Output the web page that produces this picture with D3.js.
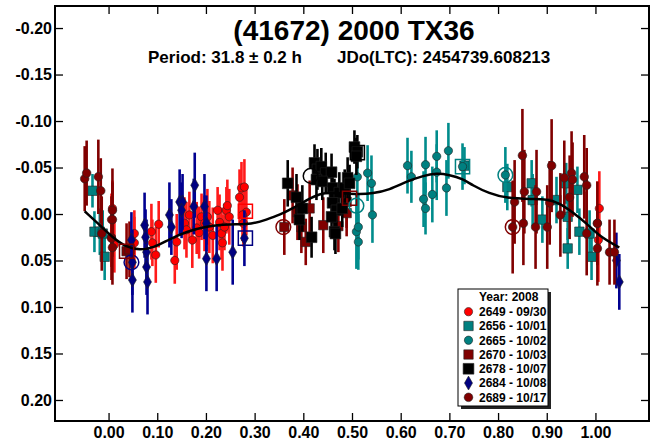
<!DOCTYPE html>
<html>
<head>
<meta charset="utf-8">
<script src="https://cdn.jsdelivr.net/npm/d3@7"></script>
<style>
  body { margin: 0; background: #fff; }
  svg { display: block; }
</style>
</head>
<body>
<svg width="657" height="444"></svg>
<script>
// lightcurve data, one array per session: [phase, mag, err]
var s2649 = [[0.008,-0.006,0.030],[0.006,0.006,0.028],[0.006,0.025,0.032],[0.012,0.033,0.030],[0.053,0.021,0.025],[0.053,0.031,0.028],[0.088,0.019,0.030],[0.090,0.031,0.025],[0.097,0.044,0.030],[0.103,0.011,0.025],[0.140,0.030,0.030],[0.136,0.050,0.025],[0.156,0.010,0.028],[0.160,0.017,0.030],[0.166,0.001,0.025],[0.172,0.028,0.030],[0.181,0.015,0.028],[0.191,0.003,0.025],[0.197,0.010,0.030],[0.186,0.020,0.028],[0.203,0.003,0.030],[0.207,0.014,0.028],[0.214,0.023,0.030],[0.224,-0.004,0.025],[0.228,0.009,0.030],[0.232,0.021,0.028],[0.234,0.031,0.030],[0.242,-0.004,0.025],[0.244,-0.009,0.028],[0.248,0.003,0.030],[0.238,0.014,0.025],[0.269,-0.018,0.030],[0.273,-0.028,0.028],[0.279,-0.029,0.030],[0.283,-0.002,0.025],[0.275,0.001,0.028],[0.277,0.010,0.025],[1.008,-0.006,0.040],[1.004,0.010,0.045],[1.006,0.028,0.045]];
var s2656 = [[-0.033,-0.025,0.018],[-0.029,0.019,0.022],[-0.018,0.019,0.025],[-0.008,0.046,0.025],[-0.012,0.021,0.025],[0.731,-0.052,0.020],[0.819,-0.029,0.025],[0.869,-0.033,0.025],[0.871,-0.015,0.028],[0.891,0.006,0.025],[0.920,-0.015,0.025],[0.940,-0.033,0.022],[0.943,0.003,0.025],[0.963,-0.026,0.025],[0.943,0.037,0.022],[0.967,0.019,0.025],[0.988,0.021,0.025],[0.992,0.046,0.025]];
var s2665 = [[0.511,-0.040,0.030],[0.509,0.019,0.040],[0.513,0.014,0.035],[0.532,-0.044,0.030],[0.540,-0.033,0.030],[0.542,0.001,0.030],[0.614,-0.052,0.030],[0.622,-0.040,0.028],[0.651,-0.053,0.030],[0.647,-0.016,0.030],[0.651,-0.006,0.028],[0.665,-0.021,0.030],[0.674,-0.062,0.028],[0.674,-0.045,0.030],[0.698,-0.068,0.030],[0.694,-0.028,0.030],[0.727,-0.051,0.025],[0.815,-0.042,0.030],[0.513,0.030,0.030]];
var s2670 = [[0.037,0.040,0.030],[0.043,0.038,0.030],[0.361,0.014,0.030],[0.378,-0.020,0.030],[0.388,-0.002,0.030],[0.396,0.014,0.028],[0.405,0.030,0.025],[0.413,-0.006,0.030],[0.441,0.012,0.030],[0.472,0.013,0.028],[0.489,-0.001,0.025],[0.489,-0.013,0.028]];
var s2678 = [[0.368,-0.033,0.025],[0.386,-0.018,0.025],[0.392,0.006,0.022],[0.398,-0.006,0.025],[0.417,0.025,0.022],[0.423,-0.055,0.020],[0.429,-0.048,0.022],[0.437,-0.051,0.020],[0.446,-0.044,0.022],[0.458,-0.045,0.020],[0.427,-0.037,0.022],[0.439,-0.035,0.020],[0.460,-0.028,0.022],[0.464,-0.018,0.020],[0.474,-0.023,0.022],[0.485,-0.028,0.020],[0.491,-0.039,0.022],[0.495,-0.033,0.020],[0.505,-0.072,0.018],[0.511,-0.067,0.018],[0.509,-0.062,0.020],[0.460,-0.012,0.022],[0.468,-0.004,0.020],[0.458,0.003,0.022],[0.464,0.019,0.020],[0.466,0.021,0.022],[0.480,-0.006,0.020]];
var s2684 = [[0.047,0.028,0.030],[0.049,0.052,0.035],[0.049,0.071,0.035],[0.074,0.012,0.035],[0.076,0.025,0.030],[0.078,0.041,0.035],[0.078,0.057,0.030],[0.080,0.073,0.035],[0.125,0.001,0.035],[0.129,0.014,0.030],[0.146,-0.013,0.035],[0.152,-0.013,0.030],[0.150,-0.004,0.030],[0.177,-0.031,0.035],[0.175,-0.008,0.030],[0.201,0.048,0.035],[0.197,-0.008,0.035],[0.201,0.010,0.030],[0.222,0.048,0.035],[0.255,0.041,0.035],[0.279,0.026,0.030],[1.043,0.050,0.030],[1.049,0.073,0.030]];
var s2689 = [[-0.049,-0.038,0.035],[-0.045,-0.044,0.035],[-0.021,-0.040,0.040],[-0.016,-0.025,0.035],[-0.014,0.021,0.040],[0.008,-0.004,0.045],[0.008,0.006,0.040],[0.006,0.026,0.045],[0.008,0.036,0.040],[0.850,-0.063,0.050],[0.854,-0.024,0.045],[0.834,-0.013,0.045],[0.830,0.014,0.050],[0.852,0.010,0.045],[0.879,-0.024,0.045],[0.877,0.014,0.045],[0.901,0.014,0.045],[0.910,-0.052,0.050],[0.906,-0.012,0.045],[0.928,0.001,0.045],[0.936,-0.039,0.040],[0.951,-0.044,0.045],[0.953,-0.037,0.040],[0.977,-0.040,0.045],[0.982,-0.031,0.040],[0.982,0.021,0.045],[1.004,0.010,0.045],[1.004,0.037,0.040],[1.029,0.041,0.035],[1.039,0.041,0.035],[0.947,-0.018,0.045]];

// first/last point markers of the sessions: [phase, mag, session, kind]
var sessionMarks = [[0.047,0.052,"2684","o"],[0.037,0.040,"2670","s"],[0.281,-0.003,"2649","s"],[0.281,0.026,"2684","s"],[0.359,0.014,"2670","o"],[0.415,-0.041,"2678","o"],[0.511,-0.066,"2678","s"],[0.495,-0.017,"2689","s"],[0.509,-0.009,"2665","o"],[0.727,-0.051,"2656","s"],[0.815,-0.042,"2665","o"],[0.830,0.014,"2689","o"]];

// Fourier fit
var fitPhase = [-0.049,-0.018,0.008,0.037,0.064,0.094,0.125,0.160,0.201,0.248,0.296,0.324,0.351,0.378,0.407,0.433,0.460,0.515,0.542,0.577,0.612,0.645,0.674,0.700,0.727,0.747,0.782,0.817,0.871,0.899,0.926,0.953,0.982,1.008,1.049];
var fitMag = [-0.003,0.012,0.025,0.036,0.039,0.036,0.027,0.019,0.013,0.011,0.011,0.006,0.001,-0.006,-0.015,-0.022,-0.023,-0.021,-0.022,-0.026,-0.035,-0.041,-0.044,-0.042,-0.038,-0.031,-0.022,-0.017,-0.016,-0.016,-0.012,-0.002,0.010,0.024,0.036];

var sessionIds = ["2649","2656","2665","2670","2678","2684","2689"];
var sessionDates = ["09/30","10/01","10/02","10/03","10/07","10/08","10/17"];
var xTicks = [0,0.1,0.2,0.3,0.4,0.5,0.6,0.7,0.8,0.9,1.0];
var yTicks = [-0.2,-0.15,-0.1,-0.05,0,0.05,0.1,0.15,0.2];

var sessionData = {"2649": s2649, "2656": s2656, "2665": s2665, "2670": s2670, "2678": s2678, "2684": s2684, "2689": s2689};
var style = {
  "2649": {color: "#ff0000", bar: "#ff1a1a", shape: d3.symbolCircle, size: 54},
  "2656": {color: "#008080", bar: "#008c8c", shape: d3.symbolSquare, size: 88},
  "2665": {color: "#008080", bar: "#008c8c", shape: d3.symbolCircle, size: 54},
  "2670": {color: "#800000", bar: "#8b0000", shape: d3.symbolSquare, size: 88},
  "2678": {color: "#000000", bar: "#000000", shape: d3.symbolSquare, size: 115},
  "2684": {color: "#000080", bar: "#000090", shape: d3.symbolDiamond, size: 56},
  "2689": {color: "#800000", bar: "#800000", shape: d3.symbolCircle, size: 58}
};

var svg = d3.select("svg");
var pLeft = 55, pRight = 649, pTop = 6, pBottom = 421;

var x = d3.scaleLinear().domain([-0.11, 1.11]).range([pLeft, pRight]);
var y = d3.scaleLinear().domain([-0.2237, 0.2226]).range([pTop, pBottom]);

var fmt = function(d) { return d.toFixed(2); };
var arial = "'Liberation Sans', Arial, sans-serif";
var tickFont = "bold 16px " + arial;

function styleAxis(g) {
  g.select(".domain").remove();
  g.selectAll(".tick line").attr("stroke", "#000").attr("stroke-width", 1.3);
  g.selectAll(".tick text").style("font", tickFont).attr("fill", "#000");
}

svg.append("g").attr("transform", "translate(0," + pBottom + ")")
  .call(d3.axisBottom(x).tickValues(xTicks).tickSize(-8).tickPadding(6).tickFormat(fmt))
  .call(styleAxis);
svg.append("g").attr("transform", "translate(0," + pTop + ")")
  .call(d3.axisTop(x).tickValues(xTicks).tickSize(-8).tickFormat(""))
  .call(styleAxis);
svg.append("g").attr("transform", "translate(" + pLeft + ",0)")
  .call(d3.axisLeft(y).tickValues(yTicks).tickSize(-8).tickPadding(3).tickFormat(fmt))
  .call(styleAxis);
svg.append("g").attr("transform", "translate(" + pRight + ",0)")
  .call(d3.axisRight(y).tickValues(yTicks).tickSize(-8).tickFormat(""))
  .call(styleAxis);

svg.append("rect")
  .attr("x", pLeft).attr("y", pTop)
  .attr("width", pRight - pLeft).attr("height", pBottom - pTop)
  .attr("fill", "none").attr("stroke", "#000").attr("stroke-width", 2);

// title
svg.append("text").attr("x", 354).attr("y", 40)
  .attr("text-anchor", "middle")
  .style("font", "bold 28px " + arial)
  .text("(41672) 2000 TX36");
svg.append("text").attr("x", 148).attr("y", 63)
  .style("font", "bold 17px " + arial)
  .text("Period: 31.8 \u00b1 0.2 h");
svg.append("text").attr("x", 337).attr("y", 63)
  .style("font", "bold 17px " + arial)
  .text("JDo(LTC): 2454739.608213");

// points with error bars
var plot = svg.append("g");
sessionIds.forEach(function(id) {
  var st = style[id];
  var g = plot.append("g").attr("class", "s" + id);
  g.selectAll("line").data(sessionData[id]).enter().append("line")
    .attr("x1", function(d) { return x(d[0]); })
    .attr("x2", function(d) { return x(d[0]); })
    .attr("y1", function(d) { return y(d[1] - d[2]); })
    .attr("y2", function(d) { return y(d[1] + d[2]); })
    .attr("stroke", st.bar).attr("stroke-width", 2.6);
  g.selectAll("path").data(sessionData[id]).enter().append("path")
    .attr("transform", function(d) { return "translate(" + x(d[0]) + "," + y(d[1]) + ")"; })
    .attr("d", d3.symbol().type(st.shape).size(st.size))
    .attr("fill", st.color).attr("stroke", "#222").attr("stroke-width", 0.6);
});

// fit curve
var fit = fitPhase.map(function(p, i) { return [p, fitMag[i]]; });
svg.append("path").datum(fit)
  .attr("fill", "none").attr("stroke", "#000").attr("stroke-width", 2.5)
  .attr("d", d3.line().x(function(d) { return x(d[0]); }).y(function(d) { return y(d[1]); }).curve(d3.curveBasis));

// open session markers
svg.append("g").selectAll("path").data(sessionMarks).enter().append("path")
  .attr("transform", function(d) { return "translate(" + x(d[0]) + "," + y(d[1]) + ")"; })
  .attr("d", function(d) {
    return d3.symbol().type(d[3] === "o" ? d3.symbolCircle : d3.symbolSquare).size(d[3] === "o" ? 170 : 200)();
  })
  .attr("fill", "none")
  .attr("stroke", function(d) { return style[d[2]].color; })
  .attr("stroke-width", 1.5);

// legend
var lg = svg.append("g").attr("transform", "translate(458,289)");
lg.append("rect").attr("x", 3).attr("y", 3).attr("width", 90).attr("height", 117).attr("fill", "#222");
lg.append("rect").attr("x", 0).attr("y", 0).attr("width", 90).attr("height", 117)
  .attr("fill", "#fff").attr("stroke", "#000").attr("stroke-width", 1);
lg.append("text").attr("x", 21).attr("y", 12)
  .style("font", "bold 12px " + arial)
  .text("Year: 2008");
sessionIds.forEach(function(id, i) {
  var cy = 22.7 + i * 14.27;
  var st = style[id];
  lg.append("path")
    .attr("transform", "translate(10.5," + cy + ")")
    .attr("d", d3.symbol().type(st.shape).size(st.size))
    .attr("fill", st.color).attr("stroke", "#222").attr("stroke-width", 0.6);
  lg.append("text").attr("x", 21).attr("y", cy + 4.3)
    .style("font", "bold 12px " + arial)
    .text(id + " - " + sessionDates[i]);
});
</script>
</body>
</html>
